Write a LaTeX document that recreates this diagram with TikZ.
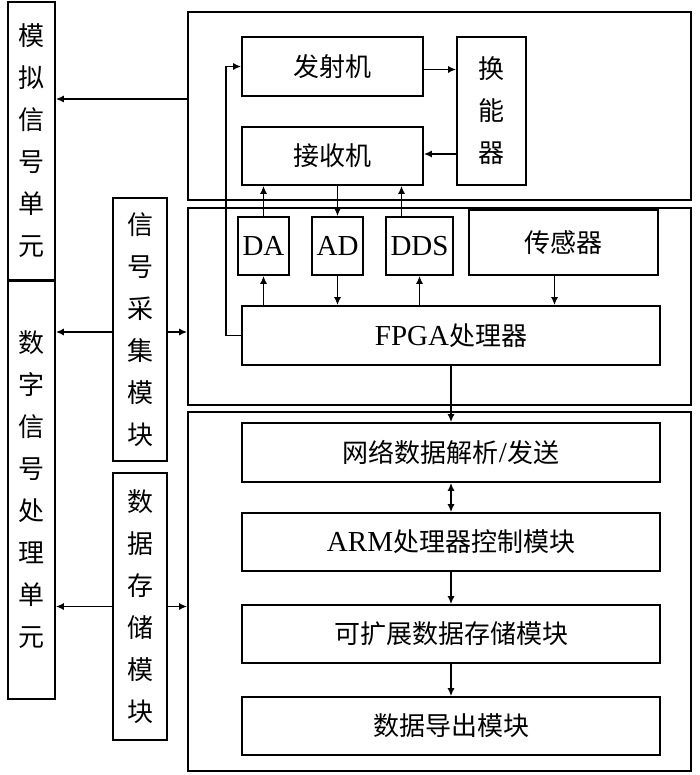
\documentclass[tikz,border=0pt]{standalone}
\usepackage{fontspec}
\setmainfont{Liberation Serif}
\newfontfamily\cjk{Noto Sans CJK SC}
\usetikzlibrary{arrows.meta}
\tikzset{
  blk/.style={draw, line width=1.6pt, inner sep=0pt, font=\fontsize{29pt}{32pt}\selectfont},
  vtext/.style={align=center, font=\cjk\fontsize{26pt}{42pt}\selectfont},
  arr/.style={-{Latex[length=8pt,width=7pt]}, line width=1.6pt},
  darr/.style={{Latex[length=8pt,width=7pt]}-{Latex[length=8pt,width=7pt]}, line width=1.6pt}
}
\newcommand{\cj}[1]{{\cjk\fontsize{26pt}{32pt}\selectfont #1}}
\begin{document}
\begin{tikzpicture}[x=1pt,y=-1pt]
\useasboundingbox (0,0) rectangle (700,775);
% left column
\node[blk, vtext, minimum width=47pt, minimum height=278pt] (anal) at (31.5,141) {模\\拟\\信\\号\\单\\元};
\node[blk, vtext, minimum width=47pt, minimum height=418pt] (dig) at (31.5,490) {数\\字\\信\\号\\处\\理\\单\\元};
\node[blk, vtext, minimum width=54pt, minimum height=263pt] (acq) at (140,329.5) {信\\号\\采\\集\\模\\块};
\node[blk, vtext, minimum width=54pt, minimum height=267pt] (sto) at (140,606.5) {数\\据\\存\\储\\模\\块};
% containers
\node[blk, minimum width=503pt, minimum height=188pt] (topC) at (439.5,106) {};
\node[blk, minimum width=503pt, minimum height=197pt] (midC) at (439.5,306.5) {};
\node[blk, minimum width=503pt, minimum height=359pt] (botC) at (439.5,591.5) {};
% top section
\node[blk, minimum width=181pt, minimum height=59pt] (tx) at (332.5,66.5) {\cj{发射机}};
\node[blk, minimum width=181pt, minimum height=58pt] (rx) at (332.5,156) {\cj{接收机}};
\node[blk, vtext, minimum width=69pt, minimum height=148pt] (tr) at (491.5,111) {换\\能\\器};
% middle section
\node[blk, minimum width=51pt, minimum height=58pt] (da) at (263.5,246) {DA};
\node[blk, minimum width=51pt, minimum height=58pt] (ad) at (337.5,246) {AD};
\node[blk, minimum width=67pt, minimum height=58pt] (dds) at (419.5,246) {DDS};
\node[blk, minimum width=189pt, minimum height=65pt] (sen) at (563.5,242.5) {\cj{传感器}};
\node[blk, minimum width=418pt, minimum height=59pt] (fpga) at (451,335.5) {FPGA\cj{处理器}};
% bottom section
\node[blk, minimum width=418pt, minimum height=59pt] (net) at (451,452.5) {\cj{网络数据解析}/\cj{发送}};
\node[blk, minimum width=418pt, minimum height=58pt] (arm) at (451,542) {ARM\cj{处理器控制模块}};
\node[blk, minimum width=418pt, minimum height=58pt] (ext) at (451,634) {\cj{可扩展数据存储模块}};
\node[blk, minimum width=418pt, minimum height=58pt] (exp) at (451,726) {\cj{数据导出模块}};
% connectors
\draw[arr] ([yshift=7pt]topC.west) -- ([yshift=7pt]topC.west -| anal.east);
\draw[arr] (fpga.west) -- ++(-15,0) |- (tx.west);
\draw[arr] ([yshift=-3pt]tx.east) -- ([yshift=-3pt]tx.east -| tr.west);
\draw[arr] ([yshift=2pt]rx.east -| tr.west) -- ([yshift=2pt]rx.east);
\draw[arr] (da.north) -- (da.north |- rx.south);
\draw[arr] (da.south |- fpga.north) -- (da.south);
\draw[arr] (ad.north |- rx.south) -- (ad.north);
\draw[arr] (ad.south) -- (ad.south |- fpga.north);
\draw[arr] ([xshift=-18pt]dds.north) -- ([xshift=-18pt]dds.north |- rx.south);
\draw[arr] (dds.south |- fpga.north) -- (dds.south);
\draw[arr] ([xshift=-9pt]sen.south) -- ([xshift=-9pt]sen.south |- fpga.north);
\draw[arr] (fpga.south) -- (net.north);
\draw[darr] (net.south) -- (arm.north);
\draw[arr] (arm.south) -- (ext.north);
\draw[arr] (ext.south) -- (exp.north);
\draw[arr] ([yshift=-2.5pt]acq.west) -- ([yshift=-2.5pt]acq.west -| dig.east);
\draw[arr] ([yshift=-2.5pt]acq.east) -- ([yshift=-2.5pt]acq.east -| midC.west);
\draw[arr] (sto.west) -- (sto.west -| dig.east);
\draw[arr] (sto.east) -- (sto.east -| botC.west);
\end{tikzpicture}
\end{document}
